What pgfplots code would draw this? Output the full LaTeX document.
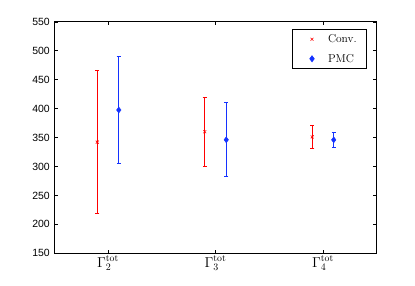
\documentclass[border=0pt]{standalone}
\usepackage{pgfplots}
\pgfplotsset{compat=1.18}
\usepackage{fontspec}
\newfontfamily\hv{Liberation Sans}
\definecolor{mred}{RGB}{255,0,0}
\definecolor{mblue}{RGB}{20,50,255}
\begin{document}
\begin{tikzpicture}[x=1bp,y=1bp]
\useasboundingbox (-54.3bp,-32.7bp) rectangle (360.7bp,253.3bp);
\begin{axis}[
  scale only axis,
  width=322.4bp, height=231.6bp,
  at={(0,0)}, anchor=south west,
  xmin=0.5, xmax=3.5, ymin=150, ymax=550,
  xtick={1,2,3},
  xticklabels={$\Gamma_2^{\mathrm{tot}}$,$\Gamma_3^{\mathrm{tot}}$,$\Gamma_4^{\mathrm{tot}}$},
  ytick={150,200,...,550},
  tick align=inside,
  major tick length=3.5bp,
  tick style={black, line width=0.4pt},
  axis line style={black, line width=0.5pt},
  yticklabel style={font=\hv\fontsize{10.5}{12}\selectfont, /pgf/number format/assume math mode=true, xshift=-1bp},
  xticklabel style={font=\fontsize{14}{16}\selectfont, yshift=1bp},
  /pgf/number format/1000 sep={},
  legend style={at={(rel axis cs:0.97,0.968)}, anchor=north east, draw=black, line width=0.7pt, font=\fontsize{11.5}{13}\selectfont, inner xsep=8bp, inner ysep=3bp, row sep=6bp, cells={anchor=west}},
  legend image code/.code={\path[draw=none,fill=none] (0bp,0bp) -- (26bp,0bp); \draw[#1] plot coordinates {(12bp,0bp)};},
  legend cell align=left,
]
\addplot[only marks, mred, mark=x, mark size=2.1pt, line width=0.6pt,
  error bars/.cd, y dir=both, y explicit,
  error bar style={mred, line width=0.9pt},
  error mark options={rotate=90, mark size=2.2pt, line width=0.9pt, mred}]
  coordinates {
  (0.9,342) += (0,123) -= (0,123.5)
  (1.9,360) += (0,60) -= (0,60)
  (2.9,351) += (0,19.5) -= (0,20.5)
  };
\addlegendentry{Conv.}
\addplot[only marks, mblue, mark=diamond*, mark size=3pt,
  error bars/.cd, y dir=both, y explicit,
  error bar style={mblue, line width=0.9pt},
  error mark options={rotate=90, mark size=2.2pt, line width=0.9pt, mblue}]
  coordinates {
  (1.1,397.5) += (0,92.5) -= (0,92.5)
  (2.1,346) += (0,65) -= (0,64)
  (3.1,346) += (0,12.5) -= (0,13)
  };
\addlegendentry{PMC}
\end{axis}
\end{tikzpicture}
\end{document}
